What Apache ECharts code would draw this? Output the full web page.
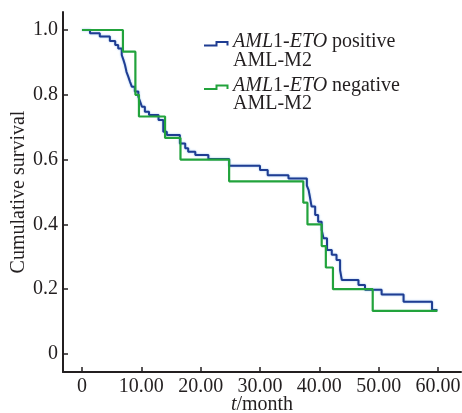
<!DOCTYPE html>
<html>
<head>
<meta charset="utf-8">
<script src="https://cdn.jsdelivr.net/npm/echarts@6/dist/echarts.min.js"></script>
<style>html,body{margin:0;padding:0;background:#fff}#c{width:462px;height:413px}</style>
</head>
<body>
<div id="c"></div>
<script>
// Kaplan-Meier survival data (time in months, cumulative survival)
const posTimes = [0, 1.35, 3.0, 4.7, 5.6, 6.1, 6.7, 7.0, 7.25, 7.5, 7.8, 8.1, 8.4, 8.9, 9.5, 9.8, 10.1, 10.6, 11.3, 12.9, 13.7, 14.3, 16.5, 17.4, 17.9, 19.1, 21.3, 24.8, 30.0, 31.3, 34.8, 37.9, 38.2, 38.4, 38.7, 39.3, 39.8, 40.4, 40.7, 41.3, 42.1, 42.9, 43.5, 43.8, 46.6, 47.7, 50.5, 54.2, 59.0, 59.9];
const posSurv  = [1.0, 0.99, 0.98, 0.966, 0.954, 0.943, 0.923, 0.907, 0.892, 0.871, 0.856, 0.84, 0.825, 0.81, 0.794, 0.779, 0.763, 0.748, 0.738, 0.722, 0.686, 0.676, 0.65, 0.635, 0.624, 0.614, 0.602, 0.581, 0.568, 0.552, 0.542, 0.52, 0.506, 0.486, 0.455, 0.429, 0.408, 0.383, 0.357, 0.321, 0.306, 0.29, 0.259, 0.228, 0.213, 0.198, 0.184, 0.161, 0.136, 0.136];
const negTimes = [0, 6.9, 9.0, 9.6, 14.0, 16.6, 24.8, 37.3, 38.0, 40.4, 41.1, 42.3, 49.0, 59.9];
const negSurv  = [1.0, 0.933, 0.8, 0.733, 0.667, 0.6, 0.533, 0.467, 0.4, 0.333, 0.267, 0.2, 0.133, 0.133];
const xTicks = [0, 10, 20, 30, 40, 50, 60];
const yTicks = [0, 0.2, 0.4, 0.6, 0.8, 1.0];
const seriesNames = ['AML1-ETO positive AML-M2', 'AML1-ETO negative AML-M2'];

const FONT = '"Liberation Serif", "Times New Roman", serif';
const INK = '#231f20';
const BLUE = '#1f3d92';
const GREEN = '#22a33c';

const chart = echarts.init(document.getElementById('c'), null, {renderer: 'canvas'});
const zip = (a, b) => a.map((v, i) => [v, b[i]]);

function legendItem(y, color, l1, l2) {
  return [
    {type: 'polyline', silent: true, shape: {points: [[204, y + 2.5], [216.5, y + 2.5], [216.5, y - 1], [227.5, y - 1], [227.5, y + 2.5]]},
     style: {stroke: color, lineWidth: 2, fill: null}},
    {type: 'text', left: 233, top: y - 11, style: {text: l1, font: '20px ' + FONT, fill: INK,
      rich: {i: {fontStyle: 'italic', fontSize: 20, fontFamily: FONT, fill: INK}, n: {fontSize: 20, fontFamily: FONT, fill: INK}}}},
    {type: 'text', left: 233, top: y + 7.5, style: {text: l2, font: '20px ' + FONT, fill: INK}}
  ];
}

chart.setOption({
  animation: false,
  backgroundColor: '#ffffff',
  grid: {left: 63, right: 1, top: 12, bottom: 41, containLabel: false, outerBoundsMode: 'none'},
  xAxis: {
    type: 'value', min: -3.2, max: 63.88,
    name: '{i|t}{n|/month}', nameLocation: 'middle', nameGap: 23, nameMoveOverlap: false,
    nameTextStyle: {rich: {i: {fontStyle: 'italic', fontSize: 20, fontFamily: FONT, color: INK}, n: {fontSize: 20, fontFamily: FONT, color: INK}}},
    axisLine: {show: true, onZero: false, lineStyle: {color: INK, width: 2}},
    axisTick: {show: true, inside: true, length: 5, customValues: xTicks, lineStyle: {color: INK, width: 1.5}},
    axisLabel: {customValues: xTicks, margin: 5, fontSize: 20, fontFamily: FONT, color: INK,
      formatter: v => v === 0 ? '0' : v.toFixed(2)},
    splitLine: {show: false}
  },
  yAxis: {
    type: 'value', min: -0.0556, max: 1.0556,
    name: 'Cumulative survival', nameLocation: 'middle', nameGap: 34, nameMoveOverlap: false,
    nameTextStyle: {fontSize: 20, fontFamily: FONT, color: INK},
    axisLine: {show: true, onZero: false, lineStyle: {color: INK, width: 2}},
    axisTick: {show: true, inside: true, length: 5, customValues: yTicks, lineStyle: {color: INK, width: 1.5}},
    axisLabel: {customValues: yTicks, margin: 5, fontSize: 20, fontFamily: FONT, color: INK,
      formatter: v => v === 0 ? '0' : v.toFixed(1)},
    splitLine: {show: false}
  },
  series: [
    {name: seriesNames[0], type: 'line', step: 'end', data: zip(posTimes, posSurv), showSymbol: false,
     lineStyle: {color: BLUE, width: 2, shadowColor: 'rgba(80,150,230,0.6)', shadowBlur: 2}, z: 2},
    {name: seriesNames[1], type: 'line', step: 'end', data: zip(negTimes, negSurv), showSymbol: false,
     lineStyle: {color: GREEN, width: 2.2}, z: 3}
  ],
  graphic: [
    ...legendItem(43, BLUE, '{i|AML}{n|1-}{i|ETO}{n| positive}', 'AML-M2'),
    ...legendItem(86.5, GREEN, '{i|AML}{n|1-}{i|ETO}{n| negative}', 'AML-M2')
  ]
});
</script>
</body>
</html>
